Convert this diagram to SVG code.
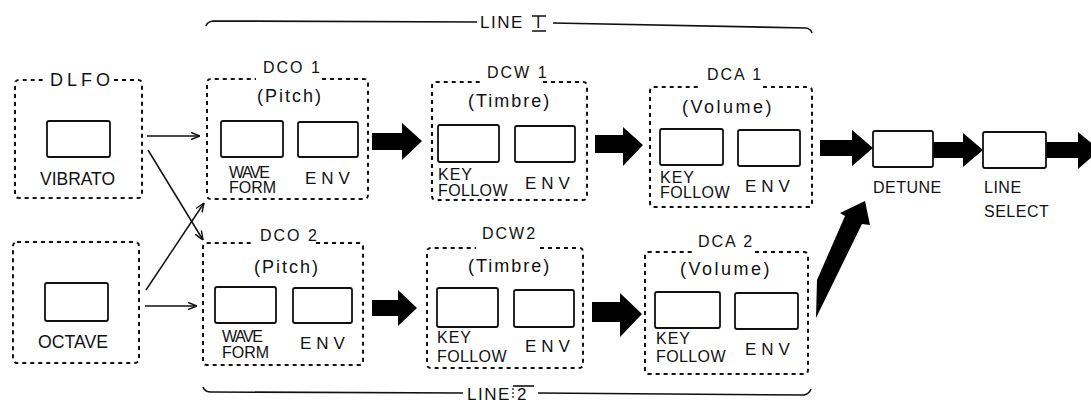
<svg xmlns="http://www.w3.org/2000/svg" width="1091" height="402" viewBox="0 0 1091 402">
<defs>
<style>
.dash{fill:none;stroke:#111;stroke-width:2;stroke-dasharray:4 4}
.box{fill:#fff;stroke:#111;stroke-width:1.8}
.t{font-family:"Liberation Sans",Arial,sans-serif;fill:#111}
.lbl{font-size:16px;letter-spacing:2px}
.sub{font-size:18px;letter-spacing:2px}
.wave{font-size:16px;letter-spacing:-1.5px}
.form{font-size:16px}
.key{font-size:16px;letter-spacing:1px}
.fol{font-size:16px;letter-spacing:0.4px}
.env{font-size:17px;letter-spacing:5px}
.out{font-size:16px;letter-spacing:0.5px}
.thin{fill:none;stroke:#111;stroke-width:1.5}
.thick{fill:#000;stroke:none}
.br{fill:none;stroke:#111;stroke-width:1.6}
</style>
<marker id="ah" viewBox="0 0 10 10" refX="10" refY="5" markerWidth="9" markerHeight="9" markerUnits="userSpaceOnUse" orient="auto">
<path d="M0,1 L10,5 L0,9" fill="none" stroke="#111" stroke-width="1.6"/>
</marker>
</defs>
<rect width="1091" height="402" fill="#fff"/>

<g id="line1-bracket">
<path class="br" d="M206,26 Q207,22 213,21 L477,22"/>
<path class="br" d="M553,23 L806,28 Q811,29 812,33"/>
<text class="t" x="480" y="28" style="font-size:17px;letter-spacing:1.5px">LINE</text>
<text class="t" x="536" y="28" style="font-size:16px">I</text>
<path class="br" d="M532,16 L546,16 M532,31 L546,31" stroke-width="1.3"/>
</g>

<g id="line2-bracket">
<path class="br" d="M203,387 Q205,392 211,392 L463,393"/>
<path class="br" d="M538,393 L804,395 Q809,394 811,389"/>
<text class="t" x="467" y="400" style="font-size:17px;letter-spacing:1.5px">LINE</text>
<text class="t" x="517" y="400" style="font-size:17px">2</text>
<path class="br" d="M513,386 L534,386" stroke-width="1.3"/>
<path d="M513,388 L513,400" fill="none" stroke="#111" stroke-width="1.2" stroke-dasharray="2 2"/>
</g>

<g id="dlfo">
<path class="dash" d="M114,80 L138,80 Q142,80 142,84 L142,194 Q142,198 138,198 L19,198 Q15,198 15,194 L15,84 Q15,80 19,80 L46,80"/>
<text class="t" x="50" y="86" style="font-size:18px;letter-spacing:4px">DLFO</text>
<rect class="box" x="47" y="121" width="63" height="36" rx="2"/>
<text class="t" x="40" y="185" style="font-size:19px" textLength="75" lengthAdjust="spacingAndGlyphs">VIBRATO</text>
</g>

<g id="octave">
<rect class="dash" x="13" y="242" width="126" height="121" rx="4"/>
<rect class="box" x="45" y="283" width="63" height="38" rx="2"/>
<text class="t" x="38" y="348" style="font-size:18px" textLength="70" lengthAdjust="spacingAndGlyphs">OCTAVE</text>
</g>

<g id="dco1">
<path class="dash" d="M322,79 L364,79 Q368,79 368,83 L368,195 Q368,199 364,199 L211,199 Q207,199 207,195 L207,83 Q207,79 211,79 L256,79"/>
<text class="t lbl" x="263" y="73">DCO 1</text>
<text class="t sub" x="257" y="102">(Pitch)</text>
<rect class="box" x="221" y="121" width="62" height="36" rx="2"/>
<rect class="box" x="298" y="122" width="60" height="35" rx="2"/>
<text class="t wave" x="229" y="178">WAVE</text>
<text class="t form" x="229" y="193">FORM</text>
<text class="t env" x="305" y="184">ENV</text>
</g>

<g id="dco2">
<path class="dash" d="M316,243 L359,243 Q363,243 363,247 L363,361 Q363,365 359,365 L207,365 Q203,365 203,361 L203,247 Q203,243 207,243 L253,243"/>
<text class="t lbl" x="260" y="241">DCO 2</text>
<text class="t sub" x="254" y="273">(Pitch)</text>
<rect class="box" x="215" y="287" width="61" height="36" rx="2"/>
<rect class="box" x="293" y="288" width="59" height="35" rx="2"/>
<text class="t wave" x="222" y="342">WAVE</text>
<text class="t form" x="222" y="358">FORM</text>
<text class="t env" x="300" y="349">ENV</text>
</g>

<g id="dcw1">
<path class="dash" d="M543,82 L583,82 Q587,82 587,86 L587,196 Q587,200 583,200 L436,200 Q432,200 432,196 L432,86 Q432,82 436,82 L480,82"/>
<text class="t lbl" x="487" y="78">DCW 1</text>
<text class="t sub" x="468" y="107">(Timbre)</text>
<rect class="box" x="438" y="125" width="61" height="37" rx="2"/>
<rect class="box" x="515" y="126" width="60" height="36" rx="2"/>
<text class="t key" x="438" y="180">KEY</text>
<text class="t fol" x="438" y="196">FOLLOW</text>
<text class="t env" x="525" y="189">ENV</text>
</g>

<g id="dcw2">
<path class="dash" d="M540,248 L579,248 Q583,248 583,252 L583,364 Q583,368 579,368 L431,368 Q427,368 427,364 L427,252 Q427,248 431,248 L476,248"/>
<text class="t lbl" x="482" y="239">DCW2</text>
<text class="t sub" x="468" y="272">(Timbre)</text>
<rect class="box" x="437" y="288" width="61" height="39" rx="2"/>
<rect class="box" x="514" y="290" width="60" height="37" rx="2"/>
<text class="t key" x="437" y="343">KEY</text>
<text class="t fol" x="437" y="362">FOLLOW</text>
<text class="t env" x="525" y="352">ENV</text>
</g>

<g id="dca1">
<path class="dash" d="M763,87 L808,87 Q812,87 812,91 L812,203 Q812,207 808,207 L654,207 Q650,207 650,203 L650,91 Q650,87 654,87 L700,87"/>
<text class="t lbl" x="707" y="80">DCA 1</text>
<text class="t sub" x="682" y="113" style="letter-spacing:2.5px">(Volume)</text>
<rect class="box" x="660" y="129" width="63" height="36" rx="2"/>
<rect class="box" x="738" y="130" width="62" height="36" rx="2"/>
<text class="t key" x="660" y="183">KEY</text>
<text class="t fol" x="660" y="198">FOLLOW</text>
<text class="t env" x="745" y="192">ENV</text>
</g>

<g id="dca2">
<path class="dash" d="M755,252 L804,252 Q808,252 808,256 L808,370 Q808,374 804,374 L649,374 Q645,374 645,370 L645,256 Q645,252 649,252 L692,252"/>
<text class="t lbl" x="698" y="247">DCA 2</text>
<text class="t sub" x="680" y="275" style="letter-spacing:2.5px">(Volume)</text>
<rect class="box" x="655" y="292" width="65" height="36" rx="2"/>
<rect class="box" x="735" y="293" width="63" height="36" rx="2"/>
<text class="t key" x="656" y="344">KEY</text>
<text class="t fol" x="656" y="362">FOLLOW</text>
<text class="t env" x="745" y="355">ENV</text>
</g>

<g id="connectors">
<line class="thin" x1="147" y1="136" x2="200" y2="136" marker-end="url(#ah)"/>
<line class="thin" x1="148" y1="150" x2="203" y2="240" marker-end="url(#ah)"/>
<line class="thin" x1="146" y1="290" x2="204" y2="203" marker-end="url(#ah)"/>
<line class="thin" x1="145" y1="306" x2="197" y2="306" marker-end="url(#ah)"/>
<polygon class="thick" points="372,133 402,133 402,123 422,141 402,160 402,150 372,150"/>
<polygon class="thick" points="595,135 623,135 623,127 643,145 623,166 623,153 595,153"/>
<polygon class="thick" points="372,300 398,300 398,290 417,308 398,326 398,316 372,316"/>
<polygon class="thick" points="592,302 620,302 620,293 642,314 620,337 620,322 592,322"/>
<polygon class="thick" points="820,140 852,140 852,130 873,148 852,166 852,156 820,156"/>
<polygon class="thick" points="933,142 963,142 963,133 983,150 963,167 963,158 933,158"/>
<polygon class="thick" points="1046,142 1078,142 1078,132 1100,150 1078,169 1078,158 1046,158"/>
<polygon class="thick" points="816,318 817,280 845,216 840,213 865,201 870,225 862,224"/>
</g>

<g id="detune">
<rect class="box" x="873" y="131" width="60" height="36" rx="2"/>
<text class="t out" x="873" y="193">DETUNE</text>
</g>

<g id="line-select">
<rect class="box" x="983" y="132" width="63" height="36" rx="2"/>
<text class="t out" x="984" y="193">LINE</text>
<text class="t out" x="984" y="217">SELECT</text>
</g>
</svg>
